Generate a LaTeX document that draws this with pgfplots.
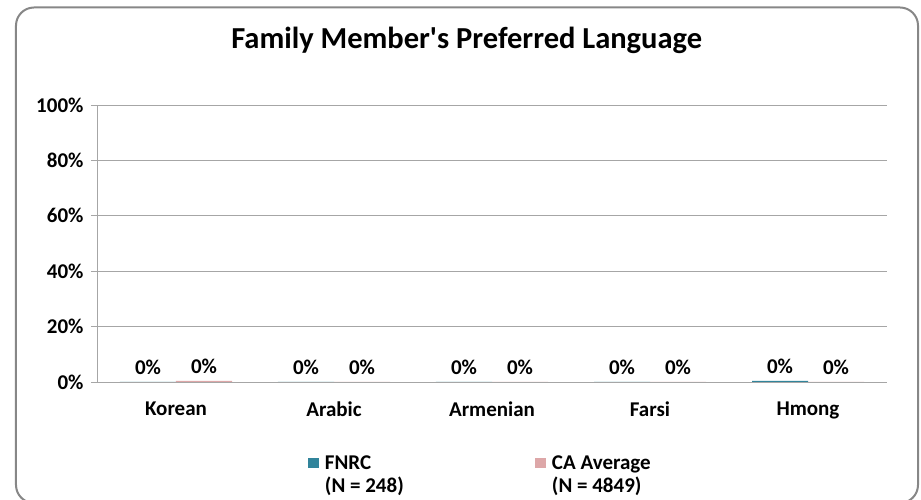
\documentclass[border=0pt]{standalone}
\usepackage{pgfplots}
\pgfplotsset{compat=1.18}
\usepackage{fontspec}
\setmainfont{Carlito}
\definecolor{fnrc}{RGB}{49,132,155}
\definecolor{caavg}{RGB}{221,167,168}
\definecolor{gridgray}{RGB}{166,166,166}
\definecolor{bordergray}{RGB}{135,135,135}
\renewcommand{\arraystretch}{0.95}
\begin{document}
\begin{tikzpicture}
\useasboundingbox (-97pt,-118pt) rectangle (824pt,382pt);
\begin{axis}[
  scale only axis, width=790pt, height=277pt,
  ybar=0pt, bar width=56pt,
  xmin=-0.5, xmax=4.5, ymin=0, ymax=100,
  xtick={0,1,2,3,4},
  xticklabels={Korean,Arabic,Armenian,Farsi,Hmong},
  extra x ticks={-0.5,0.5,1.5,2.5,3.5,4.5},
  extra x tick labels={},
  extra x tick style={major tick length=6pt, tick align=outside},
  ytick={0,20,40,60,80,100},
  yticklabel={\pgfmathprintnumber{\tick}\%},
  /pgf/number format/assume math mode=true,
  ymajorgrids, grid style={gridgray, line width=0.9pt},
  axis x line*=bottom, axis y line*=left,
  axis line style={gridgray, line width=0.9pt, -},
  tick style={gridgray, line width=0.9pt},
  tick align=outside, major tick length=6pt,
  xtick style={draw=none},
  ticklabel style={font=\fontsize{21}{24}\selectfont\bfseries},
  yticklabel style={xshift=-4pt},
  xticklabel style={yshift=-10pt},
  title={Family Member\textquotesingle s Preferred Language},
  title style={at={(0.468,1.21)}, anchor=center, yshift=0pt, font=\fontsize{30.5}{34}\selectfont\bfseries},
  nodes near coords={\pgfmathprintnumber[fixed,precision=0]{\pgfplotspointmeta}\%},
  every node near coord/.append style={font=\fontsize{21}{24}\selectfont\bfseries, black, yshift=4pt},
  legend columns=2,
  legend style={draw=none, fill=none, at={(0.263,-0.244)}, anchor=north west,
    font=\fontsize{21}{24}\selectfont\bfseries, column sep=4pt},
  legend image code/.code={\fill[#1] (0pt,-5pt) rectangle (11pt,5pt);},
]
\addplot[fill=fnrc, draw=none] coordinates {(0,0) (1,0) (2,0) (3,0) (4,0.4)};
\addlegendentry{\begin{tabular}[t]{@{}p{204pt}@{}}FNRC\\(N = 248)\end{tabular}}
\addplot[fill=caavg, draw=none] coordinates {(0,0.4) (1,0) (2,0) (3,0) (4,0)};
\addlegendentry{\begin{tabular}[t]{@{}l@{}}CA Average\\(N = 4849)\end{tabular}}
\end{axis}
\draw[bordergray, line width=2pt, rounded corners=18pt] (-81pt,-121pt) rectangle (821pt,374.5pt);
\end{tikzpicture}
\end{document}
